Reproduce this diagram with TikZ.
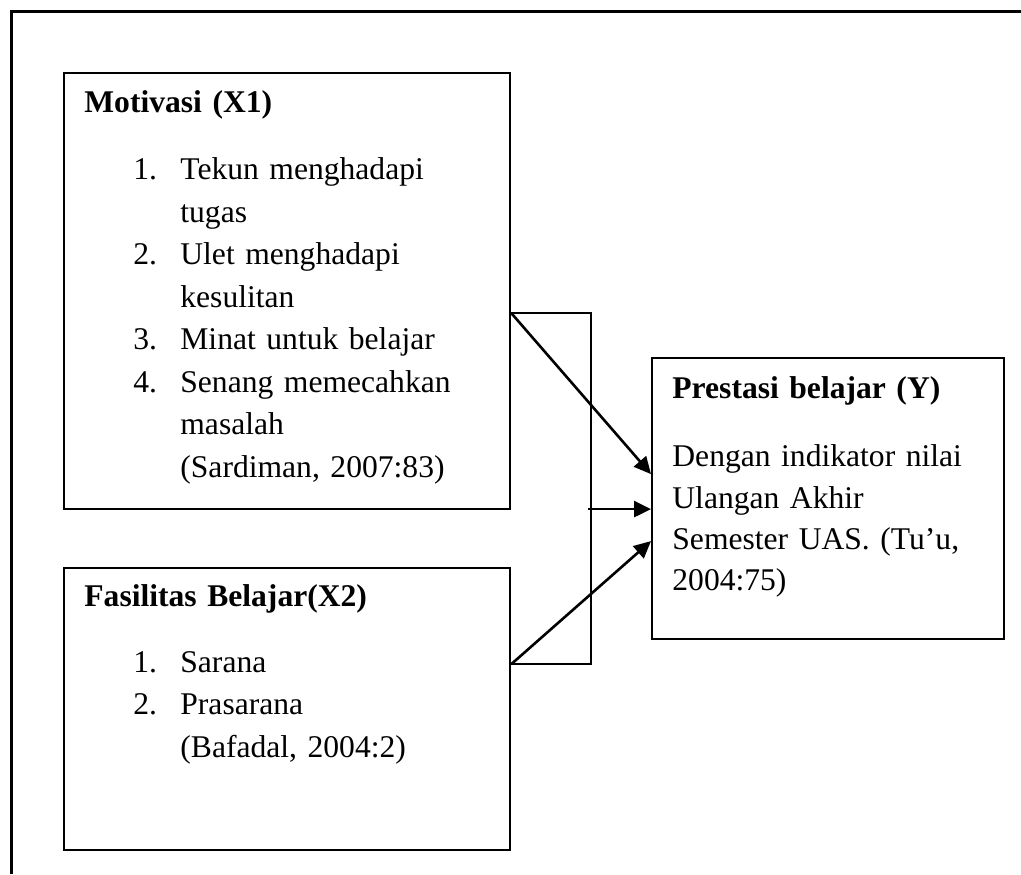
\documentclass[tikz,border=0pt]{standalone}
\usepackage{fontspec}
\setmainfont{Liberation Serif}
\usepackage{tikz}
\usetikzlibrary{positioning, arrows.meta}
\tikzstyle{varbox} = [rectangle,
minimum width=223pt,
inner sep=0pt,
line width=1.1pt,
draw=black]
\tikzstyle{boxtext} = [anchor=base west,
inner sep=0pt,
text width=205pt,
align=left,
font=\fontsize{15.8}{21.25}\selectfont]
\newcommand{\numitem}[1]{\makebox[48pt][l]{\hspace*{24.5pt}#1}}
\newcommand{\itemcont}{\hspace*{48pt}}

\begin{document}
\begin{tikzpicture}[x=0.5pt, y=-0.5pt, >={Triangle[length=8.5pt,width=8pt]}]
		\useasboundingbox (0,0) rectangle (1021,874);
		% page frame
		\draw [line width=1.5pt] (11,874) -- (11,11) -- (1021,11);
		
		\node (mot) [varbox, minimum height=218pt, anchor=north west] at (63,72) {};
		\node (fas) [varbox, minimum height=141pt, below=28.5pt of mot] {};
		\node (pres) [varbox, minimum width=176pt, minimum height=140.5pt, anchor=north west] at (651,357) {};
		
		\node (motTxt) [boxtext] at (84,112.7) {\textbf{Motivasi (X1)}\\[12.25pt]
			\numitem{1.}Tekun menghadapi\\ \itemcont tugas\\
			\numitem{2.}Ulet menghadapi\\ \itemcont kesulitan\\
			\numitem{3.}Minat untuk belajar\\
			\numitem{4.}Senang memecahkan\\ \itemcont masalah\\
			\itemcont (Sardiman, 2007:83)};
		\node (fasTxt) [boxtext] at (84,606.7) {\textbf{Fasilitas Belajar(X2)}\\[11.5pt]
			\numitem{1.}Sarana\\
			\numitem{2.}Prasarana\\
			\itemcont (Bafadal, 2004:2)};
		\node (presTxt) [boxtext, text width=165pt, font=\fontsize{15.8}{20.65}\selectfont] at (672,398) {\textbf{Prestasi belajar (Y)}\\[13.7pt]
			Dengan indikator nilai\\ Ulangan Akhir\\ Semester UAS. (Tu’u,\\ 2004:75)};
		
		% joining lines
		\coordinate (mjoin) at ([yshift=-120.5pt]mot.north east);
		\coordinate (fjoin) at ([yshift=-48.5pt]fas.north east);
		\coordinate (bus) at (591,0);
		\coordinate (pin) at ([yshift=-5.25pt]pres.west);
		
		\draw [line width=1.1pt] (mjoin) -- (mjoin -| bus) -- (fjoin -| bus) -- (fjoin);
		\draw [->, line width=1.3pt] (mjoin) -- ([yshift=12.25pt]pres.west);
		\draw [->, line width=1.3pt] ([xshift=-1.5pt]pin -| bus) -- (pin);
		\draw [->, line width=1.3pt] (fjoin) -- ([yshift=-21.25pt]pres.west);
	\end{tikzpicture}
\end{document}
